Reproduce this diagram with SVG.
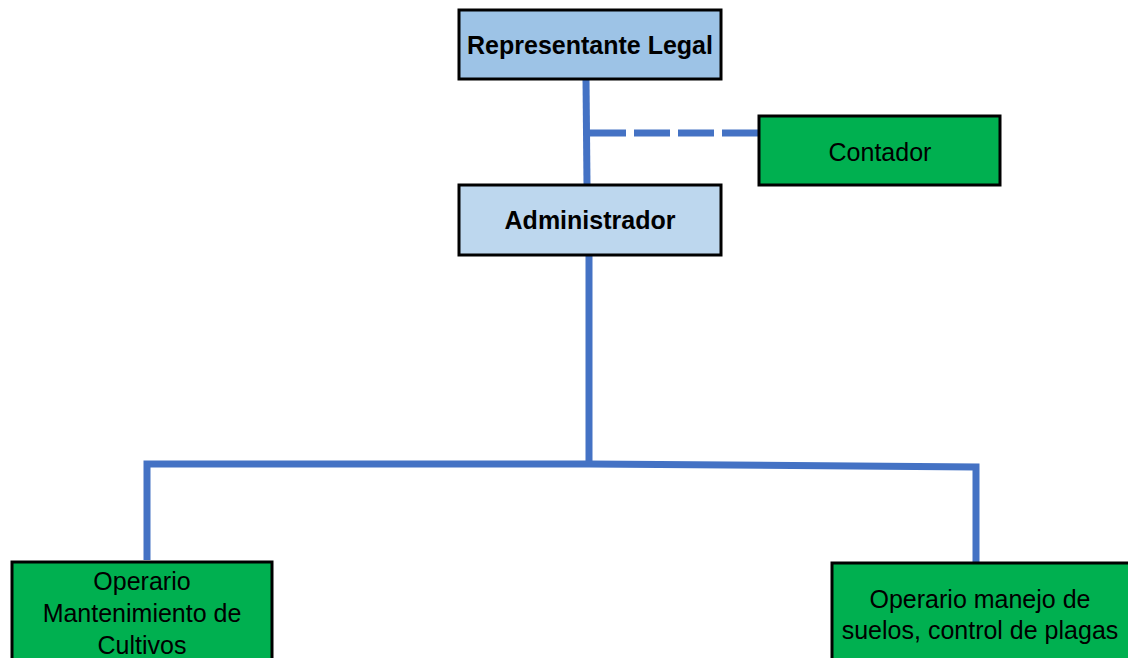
<svg xmlns="http://www.w3.org/2000/svg" width="1128" height="658" viewBox="0 0 1128 658">
<style>
.box{stroke:#000;stroke-width:3}
.blue1{fill:#9DC3E6}
.blue2{fill:#BDD7EE}
.green{fill:#00B050}
.t{font-family:"Liberation Sans",Arial,sans-serif;font-size:25px;fill:#000;text-anchor:middle}
.b{font-weight:bold}
.ln{stroke:#4472C4;stroke-width:7;fill:none}
</style>
<rect width="1128" height="658" fill="#fff"/>
<g id="connectors">
<line class="ln" x1="586" y1="79" x2="587" y2="185"/>
<line class="ln" x1="590" y1="133" x2="759" y2="133" stroke-dasharray="36 8"/>
<line class="ln" x1="589" y1="255" x2="589" y2="465"/>
<polyline class="ln" points="147,560 147,464 589,464 976,467 976,562"/>
</g>
<g id="representante">
<rect class="box blue1" x="459" y="10" width="262" height="69"/>
<text class="t b" x="590" y="54">Representante Legal</text>
</g>
<g id="contador">
<rect class="box green" x="759" y="116" width="241" height="69"/>
<text class="t" x="880" y="161">Contador</text>
</g>
<g id="administrador">
<rect class="box blue2" x="459" y="185" width="262" height="70"/>
<text class="t b" x="590" y="229">Administrador</text>
</g>
<g id="operario-cultivos">
<rect class="box green" x="12" y="562" width="260" height="110"/>
<text class="t" x="142" y="590">Operario</text>
<text class="t" x="142" y="622">Mantenimiento de</text>
<text class="t" x="142" y="654">Cultivos</text>
</g>
<g id="operario-suelos">
<rect class="box green" x="832" y="563" width="310" height="110"/>
<text class="t" x="980" y="608">Operario manejo de</text>
<text class="t" x="980" y="639">suelos, control de plagas</text>
</g>
</svg>
